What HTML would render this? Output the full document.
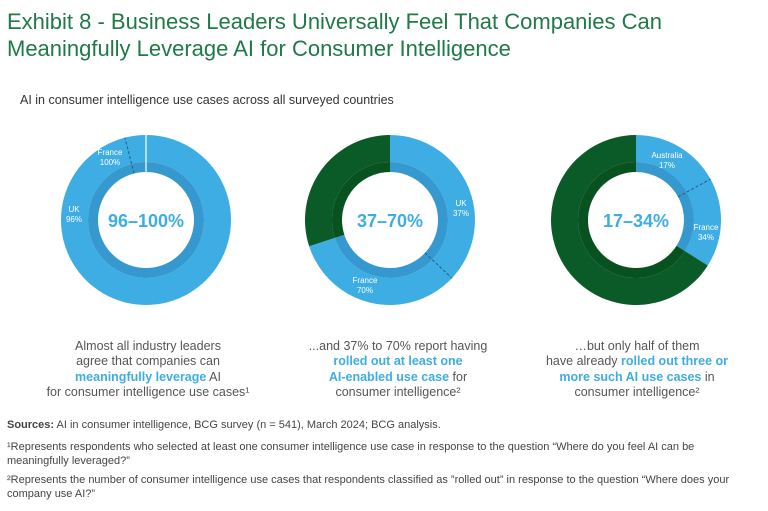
<!DOCTYPE html>
<html><head><meta charset="utf-8"><style>
body{margin:0;width:768px;height:511px;background:#fff;overflow:hidden;font-family:"Liberation Sans",sans-serif}
svg{position:absolute;left:0;top:0}
</style></head><body>
<svg width="768" height="511" viewBox="0 0 768 511" id="chart">
<text x="7" y="29" font-size="22" fill="#1f7a47">Exhibit 8 - Business Leaders Universally Feel That Companies Can</text>
<text x="7" y="56" font-size="22" fill="#1f7a47">Meaningfully Leverage AI for Consumer Intelligence</text>
<text x="20" y="104" font-size="12.5" fill="#333">AI in consumer intelligence use cases across all surveyed countries</text>
<g id="donuts"></g>
<g font-size="12.5" fill="#555" text-anchor="middle">
<text x="148" y="350">Almost all industry leaders</text>
<text x="148" y="365">agree that companies can</text>
<text x="148" y="381"><tspan fill="#3eade3" font-weight="bold">meaningfully leverage</tspan> AI</text>
<text x="148" y="396">for consumer intelligence use cases¹</text>
<text x="398" y="350">...and 37% to 70% report having</text>
<text x="398" y="365" fill="#3eade3" font-weight="bold">rolled out at least one</text>
<text x="398" y="381"><tspan fill="#3eade3" font-weight="bold">AI-enabled use case</tspan> for</text>
<text x="398" y="396">consumer intelligence²</text>
<text x="637" y="350">…but only half of them</text>
<text x="637" y="365">have already <tspan fill="#3eade3" font-weight="bold">rolled out three or</tspan></text>
<text x="637" y="381"><tspan fill="#3eade3" font-weight="bold">more such AI use cases</tspan> in</text>
<text x="637" y="396">consumer intelligence²</text>
</g>
<g font-size="11" fill="#444">
<text x="7" y="428"><tspan font-weight="bold">Sources:</tspan> AI in consumer intelligence, BCG survey (n = 541), March 2024; BCG analysis.</text>
<text x="7" y="450">¹Represents respondents who selected at least one consumer intelligence use case in response to the question “Where do you feel AI can be</text>
<text x="7" y="464">meaningfully leveraged?”</text>
<text x="7" y="483">²Represents the number of consumer intelligence use cases that respondents classified as ”rolled out” in response to the question “Where does your</text>
<text x="7" y="497">company use AI?”</text>
</g>
</svg>
<script>
const centers = ["96–100%", "37–70%", "17–34%"];
const maxValues = [100, 70, 34];
const minValues = [96, 37, 17];
const minLabels = ["UK", "UK", "Australia"];
const maxLabels = ["France", "France", "France"];
const cx=[146,390,636], cy=220, R=85, RI=58, RW=48;
const NS="http://www.w3.org/2000/svg";
const g=document.getElementById('donuts');
function pt(r,p,c){const a=p/100*2*Math.PI;return [cx[c]+r*Math.sin(a), cy-r*Math.cos(a)];}
function arc(r1,r2,p0,p1,c){
  if(p1-p0>=99.999){p1=p0+99.999;}
  const lg=(p1-p0)>50?1:0;
  const a=pt(r2,p0,c),b=pt(r2,p1,c),d=pt(r1,p1,c),e=pt(r1,p0,c);
  return `M${a}A${r2},${r2} 0 ${lg} 1 ${b}L${d}A${r1},${r1} 0 ${lg} 0 ${e}Z`;
}
function mk(tag,attrs){const el=document.createElementNS(NS,tag);for(const k in attrs)el.setAttribute(k,attrs[k]);g.appendChild(el);return el;}
for(let i=0;i<3;i++){
  const mx=maxValues[i], mn=minValues[i];
  let el=mk('path',{d:arc(RI,R,0,mx,i),fill:'#3eade3'});
  
  
  el=mk('path',{d:arc(RW,RI,0,mx,i),fill:'#3598cf'});
  
  
  if(mx<100){
    el=mk('path',{d:arc(RI,R,mx,100,i),fill:'#0a5b27'});
    
    
    el=mk('path',{d:arc(RW,RI,mx,100,i),fill:'#07521f'});
    
    
  } else {
    const a=pt(RW,0,i),b=pt(R,0,i);
    el=mk('line',{x1:a[0],y1:a[1],x2:b[0],y2:b[1],stroke:'#fff','stroke-width':1.2});
    
    
  }
  const a=pt(RW,mn,i),b=pt(R,mn,i);
  el=mk('line',{x1:a[0],y1:a[1],x2:b[0],y2:b[1],stroke:'#1d5f86','stroke-width':1,'stroke-dasharray':'3,2'});
  
  
  el=mk('text',{x:cx[i],y:cy+7,'font-size':18,'font-weight':'bold',fill:'#3eade3','text-anchor':'middle'});
  el.textContent=centers[i];
  
  
  const lblPos=[[[-72,-8],[-36,-65]],[[71,-14],[-25,63]],[[31,-62],[70,10]]][i];
  const labs=[[minLabels[i],mn],[maxLabels[i],mx]];
  for(let j=0;j<2;j++){
    const t=mk('text',{x:cx[i]+lblPos[j][0],y:cy+lblPos[j][1],'font-size':8,fill:'#fff','text-anchor':'middle'});
    t.innerHTML=`<tspan x="${cx[i]+lblPos[j][0]}">${labs[j][0]}</tspan><tspan x="${cx[i]+lblPos[j][0]}" dy="10">${labs[j][1]}%</tspan>`;
    
    
  }
}
</script>
</body></html>
